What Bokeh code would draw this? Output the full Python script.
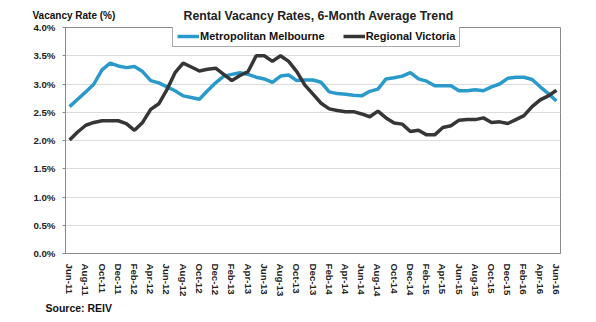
import math
from bokeh.plotting import figure
from bokeh.models import (ColumnDataSource, FixedTicker, NumeralTickFormatter,
                          Title, Legend, LegendItem, Range1d)
from bokeh.embed import file_html
from bokeh.resources import INLINE

months = ["Jun-11", "Jul-11", "Aug-11", "Sep-11", "Oct-11", "Nov-11", "Dec-11",
          "Jan-12", "Feb-12", "Mar-12", "Apr-12", "May-12", "Jun-12", "Jul-12",
          "Aug-12", "Sep-12", "Oct-12", "Nov-12", "Dec-12", "Jan-13", "Feb-13",
          "Mar-13", "Apr-13", "May-13", "Jun-13", "Jul-13", "Aug-13", "Sep-13",
          "Oct-13", "Nov-13", "Dec-13", "Jan-14", "Feb-14", "Mar-14", "Apr-14",
          "May-14", "Jun-14", "Jul-14", "Aug-14", "Sep-14", "Oct-14", "Nov-14",
          "Dec-14", "Jan-15", "Feb-15", "Mar-15", "Apr-15", "May-15", "Jun-15",
          "Jul-15", "Aug-15", "Sep-15", "Oct-15", "Nov-15", "Dec-15", "Jan-16",
          "Feb-16", "Mar-16", "Apr-16", "May-16", "Jun-16"]

metro = [2.60, 2.73, 2.86, 3.00, 3.25, 3.37, 3.32, 3.29, 3.31, 3.22,
         3.06, 3.02, 2.95, 2.88, 2.79, 2.76, 2.73, 2.88, 3.02, 3.14,
         3.17, 3.20, 3.17, 3.12, 3.09, 3.03, 3.14, 3.16, 3.06, 3.07,
         3.07, 3.03, 2.86, 2.83, 2.82, 2.80, 2.79, 2.87, 2.91, 3.09,
         3.11, 3.14, 3.20, 3.09, 3.05, 2.97, 2.97, 2.97, 2.88, 2.88,
         2.90, 2.88, 2.95, 3.00, 3.10, 3.12, 3.12, 3.08, 2.95, 2.83,
         2.70]

regional = [2.01, 2.15, 2.27, 2.32, 2.35, 2.35, 2.35, 2.30, 2.18, 2.32,
            2.55, 2.65, 2.90, 3.20, 3.37, 3.30, 3.23, 3.26, 3.28, 3.17,
            3.06, 3.15, 3.22, 3.50, 3.50, 3.40, 3.50, 3.40, 3.22, 2.98,
            2.82, 2.66, 2.56, 2.53, 2.51, 2.51, 2.47, 2.42, 2.52, 2.40,
            2.31, 2.29, 2.16, 2.18, 2.10, 2.10, 2.23, 2.26, 2.36, 2.37,
            2.37, 2.40, 2.32, 2.33, 2.30, 2.37, 2.44, 2.60, 2.72, 2.79,
            2.89]

y_ticks = [0.0, 0.5, 1.0, 1.5, 2.0, 2.5, 3.0, 3.5, 4.0]

FONT = "Liberation Sans"
BLUE = "#2A9ACB"
DARK = "#363636"

idx = list(range(len(months)))
src = ColumnDataSource(dict(x=idx, metro=metro, regional=regional))

p = figure(width=596, height=322, output_backend="svg", toolbar_location=None,
           x_range=Range1d(-0.5, len(months) - 0.5), y_range=Range1d(0, 4.0),
           min_border_left=65, min_border_right=36, min_border_top=27,
           min_border_bottom=69,
           title="Rental Vacancy Rates, 6-Month Average Trend")
p.title.align = "left"
p.title.offset = 118
p.title.text_font = FONT
p.title.text_font_style = "bold"
p.title.text_font_size = "12.3px"
p.title.text_color = "#222222"
p.title.standoff = -42
p.background_fill_color = "white"
p.border_fill_color = "white"
p.outline_line_color = "#8a8a8a"
p.outline_line_width = 1

r1 = p.line("x", "metro", source=src, line_color=BLUE, line_width=3.5)
r2 = p.line("x", "regional", source=src, line_color=DARK, line_width=3.5)

# axes
p.xaxis.ticker = FixedTicker(ticks=idx[::2])
p.xaxis.major_label_overrides = {i: months[i] for i in idx[::2]}
p.xaxis.major_label_orientation = -math.pi / 2
p.xaxis.major_tick_line_color = None
p.xaxis.minor_tick_line_color = None
p.xaxis.axis_line_color = "#8a8a8a"
p.xaxis.major_label_text_font = FONT
p.xaxis.major_label_text_font_style = "bold"
p.xaxis.major_label_text_font_size = "9.7px"
p.xaxis.major_label_text_color = "#222222"
p.xaxis.major_label_standoff = 4

p.yaxis.ticker = FixedTicker(ticks=y_ticks)
p.yaxis.formatter = NumeralTickFormatter(format="0.0")
p.yaxis.major_label_overrides = {t: f"{t:.1f}%" for t in y_ticks}
p.yaxis.major_tick_line_color = "#8a8a8a"
p.yaxis.major_tick_in = 0
p.yaxis.major_tick_out = 3
p.yaxis.minor_tick_line_color = None
p.yaxis.axis_line_color = "#8a8a8a"
p.yaxis.major_label_text_font = FONT
p.yaxis.major_label_text_font_style = "bold"
p.yaxis.major_label_text_font_size = "9.7px"
p.yaxis.major_label_text_color = "#222222"
p.yaxis.major_label_standoff = 7

p.xgrid.grid_line_color = None
p.ygrid.ticker = FixedTicker(ticks=y_ticks)
p.ygrid.grid_line_color = "#dcdcdc"
p.ygrid.grid_line_width = 1

legend = Legend(items=[LegendItem(label="Metropolitan Melbourne", renderers=[r1]),
                       LegendItem(label="Regional Victoria", renderers=[r2])],
                orientation="horizontal", location=(107, 206),
                glyph_width=22, glyph_height=12, label_standoff=1,
                spacing=18, padding=4, margin=0,
                label_text_font=FONT, label_text_font_style="bold",
                label_text_font_size="11px", label_text_color="#111111",
                border_line_color="#555555", border_line_width=1,
                background_fill_alpha=1.0, label_height=12)
p.add_layout(legend, "center")

ylab = Title(text="Vacancy Rate (%)", align="left", offset=-33, standoff=13,
             text_font=FONT, text_font_style="bold", text_font_size="10px",
             text_color="#111111")
p.add_layout(ylab, "above")

source = Title(text="Source:  REIV", align="left", offset=-20, standoff=0,
               text_font=FONT, text_font_style="bold", text_font_size="10.5px",
               text_color="#111111")
p.add_layout(source, "below")

open("out.html", "w").write(file_html(p, INLINE))
